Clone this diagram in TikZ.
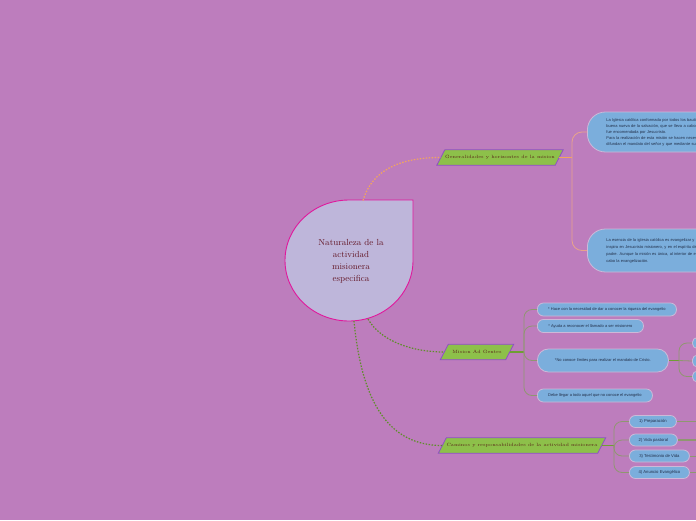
\documentclass[tikz,border=0pt]{standalone}
\usepackage{fontspec}
\newfontfamily\nodesans{Liberation Sans}
\usetikzlibrary{backgrounds}
\definecolor{bg}{HTML}{BD7DBD}
\definecolor{bluefill}{HTML}{7BAEDC}
\definecolor{blueborder}{HTML}{CDB9D8}
\definecolor{bluetext}{HTML}{22304A}
\definecolor{greenfill}{HTML}{8DC04A}
\definecolor{greenborder}{HTML}{8E50C6}
\definecolor{maroon}{HTML}{641828}
\definecolor{paratext}{HTML}{5A2418}
\definecolor{centerfill}{HTML}{BEB6DA}
\definecolor{centerborder}{HTML}{E0189C}
\definecolor{orangeline}{HTML}{F2A55E}
\definecolor{greenline}{HTML}{6F9E33}
\definecolor{greendotc}{HTML}{5E8E2A}
\definecolor{spineline}{HTML}{8F9770}
\definecolor{peachline}{HTML}{E8A48A}
\begin{document}
\begin{tikzpicture}[x=1pt,y=-1pt,
  centertext/.style={align=center, text=maroon, font=\fontsize{8.8}{12}\selectfont, inner sep=0pt},
  para/.style={text=paratext, font=\fontsize{4.6}{5}\selectfont, minimum height=15pt, inner sep=0pt},
  parashape/.style={fill=greenfill, draw=greenborder, line width=0.8pt},
  bnode/.style={draw=blueborder, fill=bluefill, line width=0.8pt, rounded corners=6pt,
    text=bluetext, font=\nodesans\fontsize{4}{5}\selectfont, inner sep=0pt,
    anchor=west, minimum height=13pt},
  bignode/.style={draw=blueborder, fill=bluefill, line width=0.8pt, rounded corners=18pt,
    text=bluetext, font=\nodesans\fontsize{4}{6}\selectfont, align=left,
    anchor=west, inner xsep=19pt, inner ysep=0pt, text width=200pt},
  orangedash/.style={draw=orangeline, line width=1.2pt, dash pattern=on 1.5pt off 1.5pt},
  greendot/.style={draw=greendotc, line width=1.2pt, dash pattern=on 1.5pt off 1.5pt},
  spine/.style={draw=spineline, line width=0.8pt, rounded corners=8pt},
  peach/.style={draw=peachline, line width=0.8pt, rounded corners=10pt}
]
\useasboundingbox (0,0) rectangle (696,520);
\clip (0,0) rectangle (696,520);
\begin{pgfonlayer}{background}
\fill[bg] (0,0) rectangle (696,520);
\end{pgfonlayer}

% central node
\filldraw[fill=centerfill, draw=centerborder, line width=0.9pt]
  (413,200) -- (349,200) arc[start angle=90, end angle=360, x radius=64pt, y radius=60.5pt] -- cycle;
\node[centertext] (c) at (351,261) {Naturaleza de la\\actividad\\misionera\\especifica};
\coordinate (ctop) at (363,200.5);
\coordinate (cb1) at (368,319);
\coordinate (cb2) at (354,321);

% branch 1
\node[para, minimum width=118pt] (g1) at (500,157.5) {Generalidades y horizontes de la mision};
\node[bignode, minimum height=40pt] (t1) at (587,132) {La Iglesia católica conformada por todos los bautizados\\
buena nueva de la salvación, que se lleva a cabo en\\
fue encomendada por Jesucristo.\\
Para la realización de esta misión se hacen necesarios\\
difundan el mandato del señor y que mediante su};
\node[bignode, minimum height=43pt, font=\nodesans\fontsize{4}{7}\selectfont] (t2) at (587,250.5) {La esencia de la iglesia católica es evangelizar y por\\
inspira en Jesucristo misionero, y en el espíritu del\\
padre. Aunque la misión es única, al interior de ella\\
cabo la evangelización.};
\draw[orangedash] (ctop) .. controls (372,170) and (400,157.5) .. (g1.west);
\draw[draw=orangeline, line width=1pt] (g1.east) -- (572,157.5) coordinate (s1);
\draw[peach] (s1) |- (t1.west);
\draw[peach] (s1) |- (t2.west);

% branch 2
\node[para, minimum width=65pt] (m) at (477,352) {Mision Ad Gentes};
\node[bnode, minimum width=139pt] (a) at (537,309.5) {* Hace con la necesidad de dar a conocer la riqueza del evangelio};
\node[bnode, minimum width=106pt] (b) at (537,326) {* Ayuda a reconocer el llamado a ser misionero};
\node[bnode, minimum width=131pt, minimum height=23pt, rounded corners=11pt] (cc) at (537,360.5) {*No conoce límites para realizar el mandato de Cristo.};
\node[bnode, minimum width=115pt] (d) at (537,395.5) {Debe llegar a todo aquel que no conoce el evangelio};
\node[bnode, minimum width=24pt, minimum height=11pt, rounded corners=5pt] (x1) at (692,343) {};
\node[bnode, minimum width=24pt, minimum height=12pt, rounded corners=5pt] (x2) at (692,361) {};
\node[bnode, minimum width=24pt, minimum height=11pt, rounded corners=5pt] (x3) at (692,376.5) {};
\draw[greendot] (cb1) .. controls (380,340) and (410,352) .. (m.west);
\draw[draw=greenline, line width=1.2pt] (m.east) -- (524,352) coordinate (s2);
\draw[spine] (s2) |- (a.west);
\draw[spine] (s2) |- (b.west);
\draw[spine] (s2) |- (cc.west);
\draw[spine] (s2) |- (d.west);
\draw[draw=greenline, line width=1pt] (cc.east) -- (679,360.5) coordinate (s3);
\draw[spine] (s3) |- (x1.west);
\draw[spine] (s3) -- (x2.west);
\draw[spine] (s3) |- (x3.west);

% branch 3
\node[para, minimum width=159pt] (k) at (522,445.5) {Caminos y responsabilidades de la actividad misionera};
\node[bnode, minimum width=47pt, minimum height=12pt, font=\nodesans\fontsize{4.2}{5}\selectfont] (n1) at (629,421.5) {1) Preparación};
\node[bnode, minimum width=48pt, minimum height=12pt, font=\nodesans\fontsize{4.2}{5}\selectfont] (n2) at (629,440) {2) Vida pastoral};
\node[bnode, minimum width=60pt, minimum height=12pt, font=\nodesans\fontsize{4.2}{5}\selectfont] (n3) at (629,456) {3) Testimonio de Vida};
\node[bnode, minimum width=60pt, minimum height=12pt, font=\nodesans\fontsize{4.2}{5}\selectfont] (n4) at (629,472.5) {4) Anuncio Evangélico};
\coordinate (r1) at (700,421.5);
\coordinate (r2) at (700,440);
\coordinate (r3) at (700,456);
\coordinate (r4) at (700,472.5);
\draw[greendot] (cb2) .. controls (362,405) and (390,445.5) .. (k.west);
\draw[draw=greenline, line width=1.2pt] (k.east) -- (614,445.5) coordinate (s4);
\draw[spine] (s4) |- (n1.west);
\draw[spine] (s4) |- (n2.west);
\draw[spine] (s4) |- (n3.west);
\draw[spine] (s4) |- (n4.west);
\draw[spine] (n1.east) -- (r1);
\draw[spine, line width=2pt] (n2.east) -- (r2);
\draw[spine] (n3.east) -- (r3);
\draw[spine] (n4.east) -- (r4);

% parallelogram shapes behind their texts
\begin{pgfonlayer}{background}
\foreach \p in {g1,m,k}{
  \filldraw[parashape] ([xshift=-4pt]\p.south west) -- ([xshift=4pt]\p.north west)
    -- ([xshift=4pt]\p.north east) -- ([xshift=-4pt]\p.south east) -- cycle;
}
\end{pgfonlayer}
\end{tikzpicture}
\end{document}
